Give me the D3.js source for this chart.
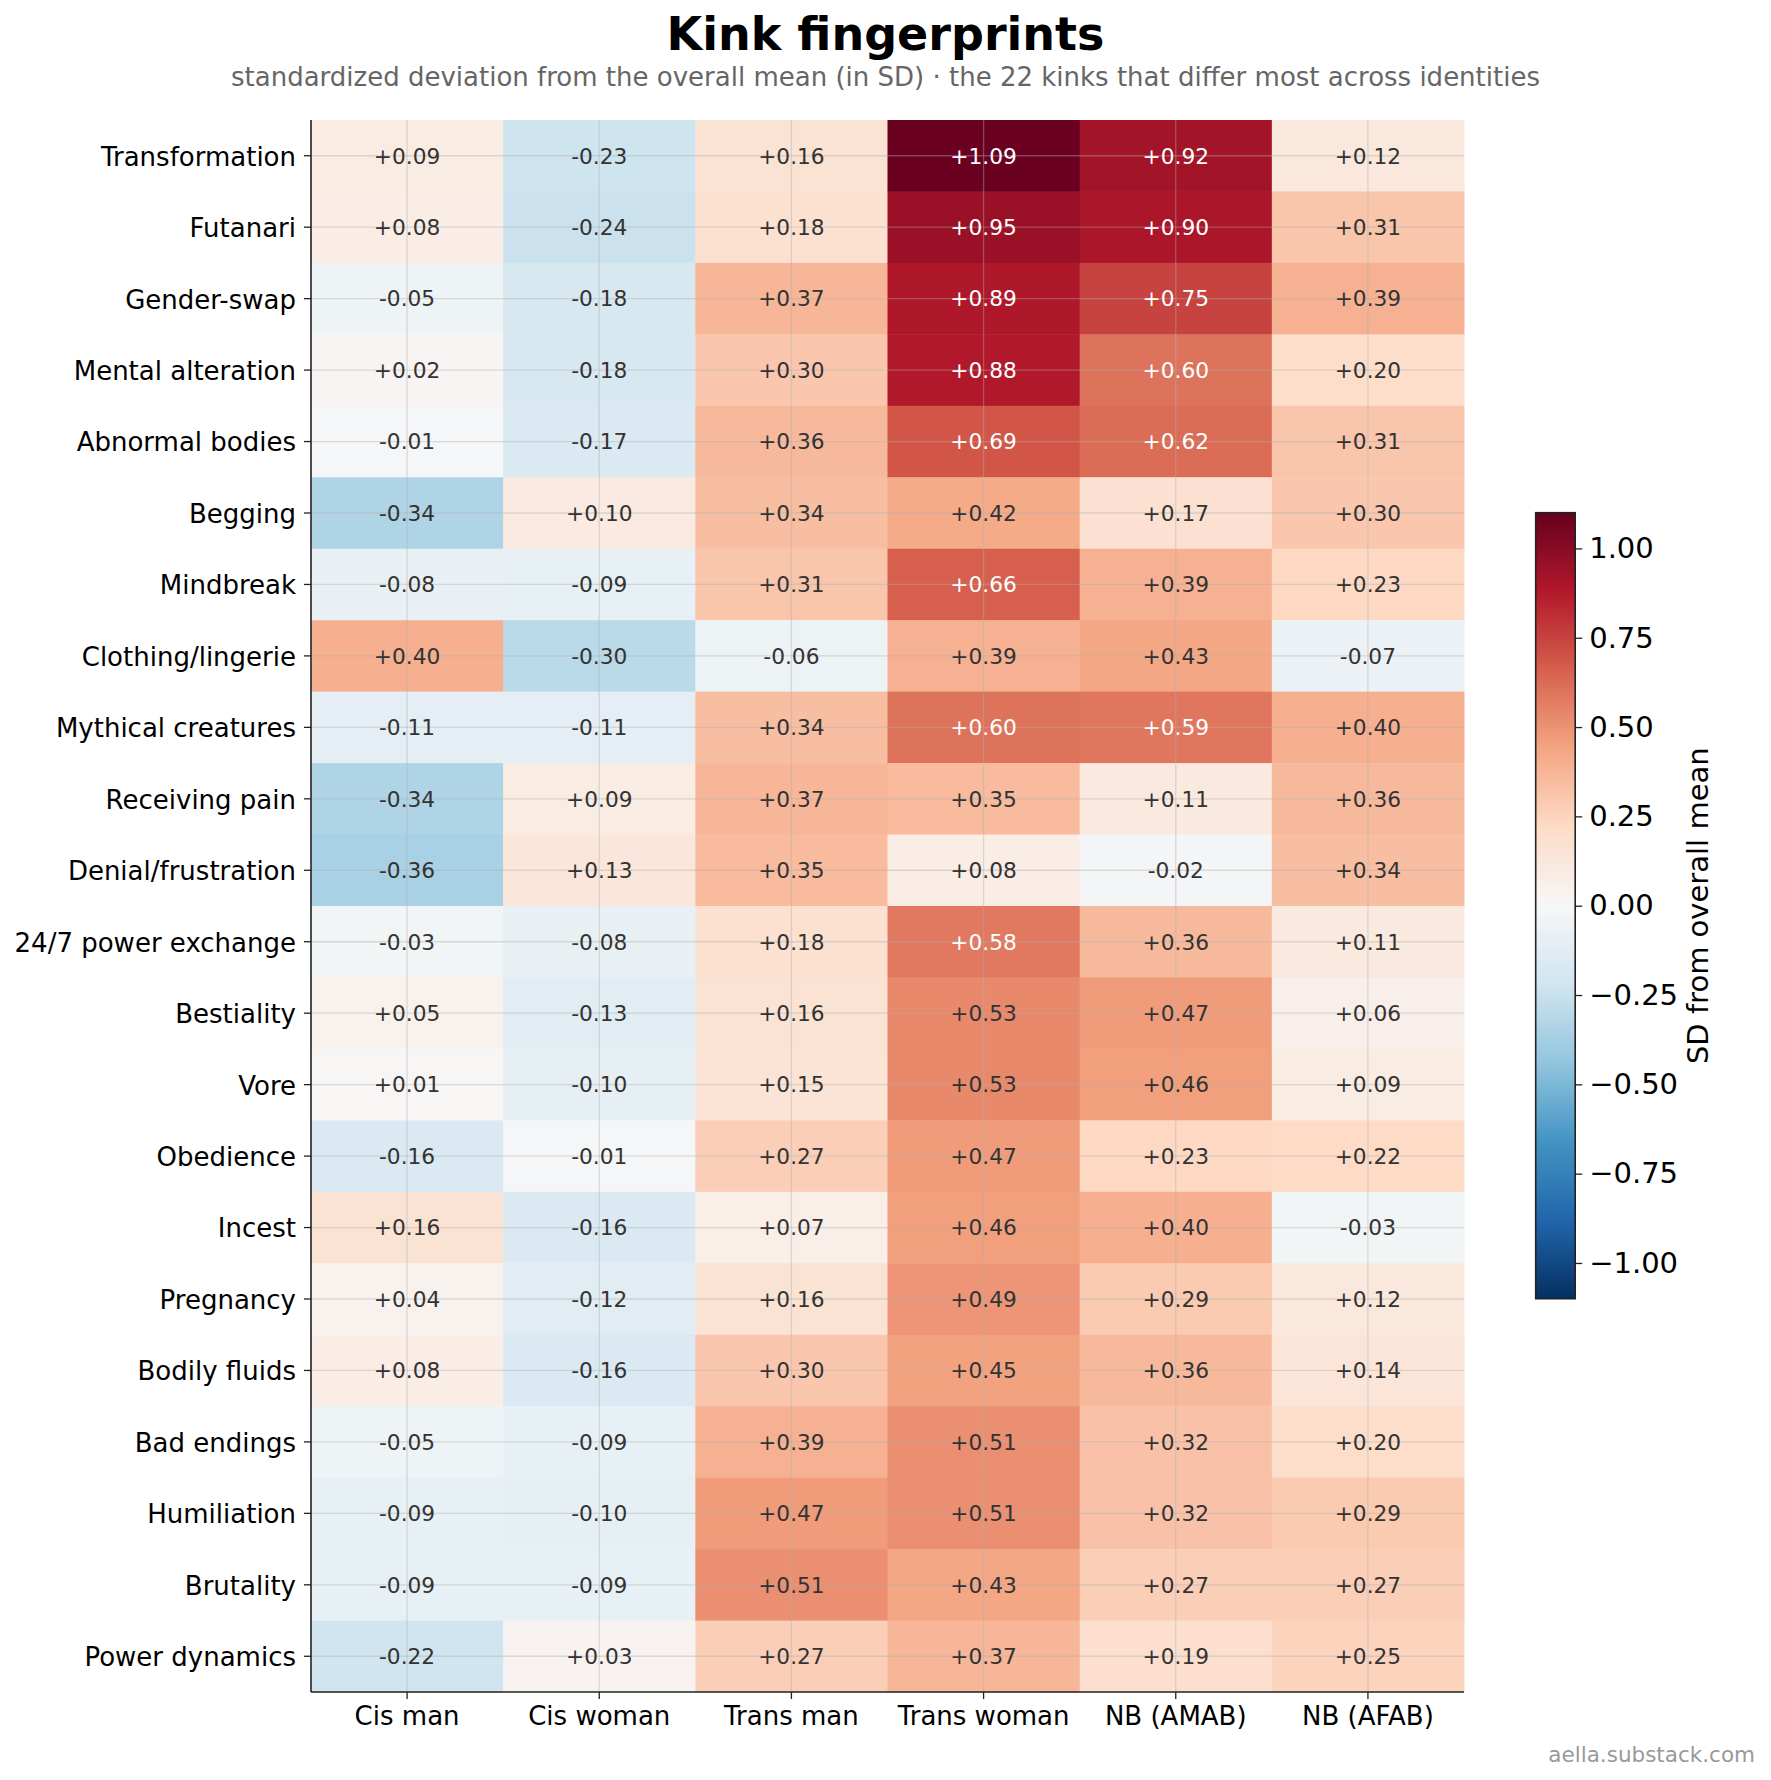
<!DOCTYPE html>
<html>
<head>
<meta charset="utf-8">
<script src="https://cdn.jsdelivr.net/npm/d3@7"></script>
<style>
  html, body { margin: 0; padding: 0; background: #fff; }
  svg { display: block; font-family: "DejaVu Sans", sans-serif; }
</style>
</head>
<body>
<script>
const kinks = ["Transformation","Futanari","Gender-swap","Mental alteration","Abnormal bodies","Begging","Mindbreak","Clothing/lingerie","Mythical creatures","Receiving pain","Denial/frustration","24/7 power exchange","Bestiality","Vore","Obedience","Incest","Pregnancy","Bodily fluids","Bad endings","Humiliation","Brutality","Power dynamics"];
const identities = ["Cis man","Cis woman","Trans man","Trans woman","NB (AMAB)","NB (AFAB)"];
const cisMan     = [0.09,0.08,-0.05,0.02,-0.01,-0.34,-0.08,0.40,-0.11,-0.34,-0.36,-0.03,0.05,0.01,-0.16,0.16,0.04,0.08,-0.05,-0.09,-0.09,-0.22];
const cisWoman   = [-0.23,-0.24,-0.18,-0.18,-0.17,0.10,-0.09,-0.30,-0.11,0.09,0.13,-0.08,-0.13,-0.10,-0.01,-0.16,-0.12,-0.16,-0.09,-0.10,-0.09,0.03];
const transMan   = [0.16,0.18,0.37,0.30,0.36,0.34,0.31,-0.06,0.34,0.37,0.35,0.18,0.16,0.15,0.27,0.07,0.16,0.30,0.39,0.47,0.51,0.27];
const transWoman = [1.09,0.95,0.89,0.88,0.69,0.42,0.66,0.39,0.60,0.35,0.08,0.58,0.53,0.53,0.47,0.46,0.49,0.45,0.51,0.51,0.43,0.37];
const nbAmab     = [0.92,0.90,0.75,0.60,0.62,0.17,0.39,0.43,0.59,0.11,-0.02,0.36,0.47,0.46,0.23,0.40,0.29,0.36,0.32,0.32,0.27,0.19];
const nbAfab     = [0.12,0.31,0.39,0.20,0.31,0.30,0.23,-0.07,0.40,0.36,0.34,0.11,0.06,0.09,0.22,-0.03,0.12,0.14,0.20,0.29,0.27,0.25];
const seriesValues = [cisMan, cisWoman, transMan, transWoman, nbAmab, nbAfab];
const cbTicks = [-1.0,-0.75,-0.5,-0.25,0,0.25,0.5,0.75,1.0];
const vmax = 1.1;

const W = 1771, H = 1780;
const svg = d3.select("body").append("svg").attr("width", W).attr("height", H);

const pL = 311, pR = 1464, pT = 120, pB = 1692;
const x = d3.scaleBand().domain(identities).range([pL, pR]).padding(0);
const y = d3.scaleBand().domain(kinks).range([pT, pB]).padding(0);

const rdbu = ["#053061","#2166ac","#4393c3","#92c5de","#d1e5f0","#f7f7f7","#fddbc7","#f4a582","#d6604d","#b2182b","#67001f"];
const color = d3.scaleLinear()
  .domain(d3.range(11).map(i => -vmax + i * (2 * vmax / 10)))
  .range(rdbu)
  .interpolate(d3.interpolateRgb)
  .clamp(true);

const cells = [];
identities.forEach((id, j) => kinks.forEach((k, i) => cells.push({id, k, v: seriesValues[j][i]})));

svg.append("g").selectAll("rect").data(cells).join("rect")
  .attr("x", d => x(d.id)).attr("y", d => y(d.k))
  .attr("width", x.bandwidth() + 0.5).attr("height", y.bandwidth() + 0.5)
  .attr("fill", d => color(d.v));

// grid lines at cell centers
const grid = svg.append("g").attr("stroke", "#b0b0b0").attr("stroke-opacity", 0.4).attr("stroke-width", 1.3);
identities.forEach(id => grid.append("line")
  .attr("x1", x(id) + x.bandwidth()/2).attr("x2", x(id) + x.bandwidth()/2)
  .attr("y1", pT).attr("y2", pB));
kinks.forEach(k => grid.append("line")
  .attr("y1", y(k) + y.bandwidth()/2).attr("y2", y(k) + y.bandwidth()/2)
  .attr("x1", pL).attr("x2", pR));

const fmt = v => (v >= 0 ? "+" : "-") + Math.abs(v).toFixed(2);
svg.append("g").selectAll("text").data(cells).join("text")
  .attr("x", d => x(d.id) + x.bandwidth()/2)
  .attr("y", d => y(d.k) + y.bandwidth()/2)
  .attr("dy", "0.36em")
  .attr("text-anchor", "middle")
  .attr("font-size", 21.7)
  .attr("fill", d => Math.abs(d.v) > 0.55 ? "#ffffff" : "#333333")
  .text(d => fmt(d.v));

// axes
const xAxis = svg.append("g").attr("transform", `translate(0,${pB})`)
  .call(d3.axisBottom(x).tickSize(7).tickPadding(8));
const yAxis = svg.append("g").attr("transform", `translate(${pL},0)`)
  .call(d3.axisLeft(y).tickSize(7).tickPadding(8));
[xAxis, yAxis].forEach(a => {
  a.selectAll("text").attr("font-size", 26).attr("fill", "#000").attr("font-family", "DejaVu Sans");
  a.selectAll(".tick line").attr("stroke", "#222").attr("stroke-width", 1.3);
  a.select(".domain").attr("stroke", "#222").attr("stroke-width", 1.6);
});
yAxis.selectAll(".tick text").attr("dy", "0.38em");
xAxis.select(".domain").attr("d", `M${pL},0H${pR}`);
yAxis.select(".domain").attr("d", `M0,${pT}V${pB}`);

// title
svg.append("text").attr("x", W/2).attr("y", 50).attr("text-anchor", "middle")
  .attr("font-size", 46).attr("font-weight", "bold").attr("fill", "#000").text("Kink fingerprints");
svg.append("text").attr("x", W/2).attr("y", 86).attr("text-anchor", "middle")
  .attr("font-size", 26).attr("fill", "#666").text("standardized deviation from the overall mean (in SD) · the 22 kinks that differ most across identities");

// colorbar
const cbX = 1535.7, cbW = 39.5, cbTop = 512.7, cbBot = 1298.7;
const cbY = d3.scaleLinear().domain([-vmax, vmax]).range([cbBot, cbTop]);
const defs = svg.append("defs");
const grad = defs.append("linearGradient").attr("id", "cbgrad")
  .attr("x1", 0).attr("y1", 1).attr("x2", 0).attr("y2", 0);
rdbu.forEach((c, i) => grad.append("stop").attr("offset", i/10).attr("stop-color", c));
svg.append("rect").attr("x", cbX).attr("y", cbTop).attr("width", cbW).attr("height", cbBot - cbTop)
  .attr("fill", "url(#cbgrad)").attr("stroke", "#222").attr("stroke-width", 1.6);
const cbAxis = svg.append("g").attr("transform", `translate(${cbX + cbW},0)`)
  .call(d3.axisRight(cbY).tickValues(cbTicks).tickSize(7).tickPadding(7)
    .tickFormat(v => (v < 0 ? "\u2212" : "") + Math.abs(v).toFixed(2)));
cbAxis.select(".domain").remove();
cbAxis.selectAll("text").attr("font-size", 29).attr("fill", "#000").attr("font-family", "DejaVu Sans");
cbAxis.selectAll(".tick line").attr("stroke", "#222").attr("stroke-width", 1.3);
svg.append("text")
  .attr("transform", `translate(1708,${(cbTop + cbBot)/2}) rotate(-90)`)
  .attr("text-anchor", "middle").attr("font-size", 29).attr("fill", "#000")
  .text("SD from overall mean");

// watermark
svg.append("text").attr("x", 1755).attr("y", 1762).attr("text-anchor", "end")
  .attr("font-size", 21.5).attr("fill", "#999").text("aella.substack.com");
</script>
</body>
</html>
